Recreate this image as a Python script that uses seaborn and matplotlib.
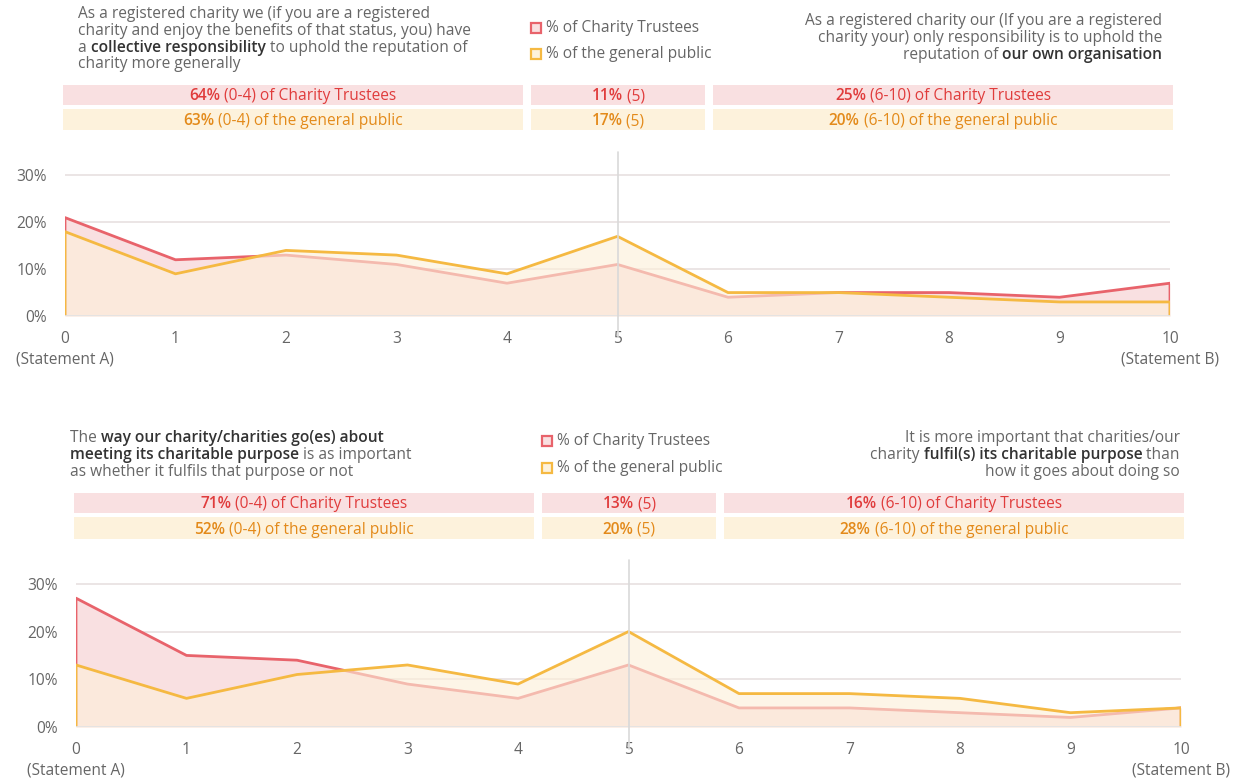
import numpy as np
import pandas as pd
import seaborn as sns
import matplotlib.pyplot as plt
from matplotlib.patches import Rectangle

# scores on the 0-10 scale
scores = list(range(11))

# question 1: collective responsibility vs own organisation
q1_trustees = [21, 12, 13, 11, 7, 11, 4, 5, 5, 4, 7]
q1_public = [18, 9, 14, 13, 9, 17, 5, 5, 4, 3, 3]
q1_sum_trustees = ["64%", "11%", "25%"]
q1_sum_public = ["63%", "17%", "20%"]

# question 2: how vs whether purpose is fulfilled
q2_trustees = [27, 15, 14, 9, 6, 13, 4, 4, 3, 2, 4]
q2_public = [13, 6, 11, 13, 9, 20, 7, 7, 6, 3, 4]
q2_sum_trustees = ["71%", "13%", "16%"]
q2_sum_public = ["52%", "20%", "28%"]

range_trustees = [" (0-4) of Charity Trustees", " (5)", " (6-10) of Charity Trustees"]
range_public = [" (0-4) of the general public", " (5)", " (6-10) of the general public"]

q1_left = ["As a registered charity we (if you are a registered",
           "charity and enjoy the benefits of that status, you) have",
           "a **collective responsibility** to uphold the reputation of",
           "charity more generally"]
q1_right = ["As a registered charity our (If you are a registered",
            "charity your) only responsibility is to uphold the",
            "reputation of **our own organisation**"]
q2_left = ["The **way our charity/charities go(es) about**",
           "**meeting its charitable purpose** is as important",
           "as whether it fulfils that purpose or not"]
q2_right = ["It is more important that charities/our",
            "charity **fulfil(s) its charitable purpose** than",
            "how it goes about doing so"]

legend_labels = ["% of Charity Trustees", "% of the general public"]

RED = "#e8636b"
YELLOW = "#f5b942"
PINK_BG = "#f9e0e1"
CREAM_BG = "#fdf2dc"
RED_TXT = "#e03c3c"
ORANGE_TXT = "#e38a1a"
GREY_TXT = "#666666"
DARK_TXT = "#333333"

W, H = 1247, 779
sns.set_theme(style="white")
plt.rcParams["font.family"] = ["Open Sans", "DejaVu Sans"]

fig = plt.figure(figsize=(W / 100, H / 100), dpi=100)
fig.canvas.draw()
renderer = fig.canvas.get_renderer()
FS = 11.2
BOLD = "semibold"


def runs_from(line, base_color, bold_color):
    parts = line.split("**")
    out = []
    for i, p in enumerate(parts):
        if p:
            out.append((p, BOLD if i % 2 else "normal", bold_color if i % 2 else base_color))
    return out


def draw_runs(x, y, runs, ha="left", size=FS):
    # x, y in pixels from top-left
    texts = []
    widths = []
    for s, weight, color in runs:
        t = fig.text(0, 0, s, fontsize=size, fontweight=weight, color=color, va="center", ha="left")
        w = t.get_window_extent(renderer).width
        texts.append(t)
        widths.append(w)
    total = sum(widths)
    if ha == "right":
        x0 = x - total
    elif ha == "center":
        x0 = x - total / 2
    else:
        x0 = x
    for t, w in zip(texts, widths):
        t.set_position((x0 / W, 1 - y / H))
        x0 += w


def paragraph(x, y0, lines, ha, step=16.8):
    for i, line in enumerate(lines):
        draw_runs(x, y0 + i * step, runs_from(line, GREY_TXT, DARK_TXT), ha=ha)


def legend(x, y0, step=26):
    for i, (lab, ec, fc) in enumerate(zip(legend_labels, [RED, YELLOW], [PINK_BG, CREAM_BG])):
        y = y0 + i * step
        fig.patches.append(Rectangle((x / W, 1 - (y + 5) / H), 10 / W, 10 / H, transform=fig.transFigure,
                                     facecolor=fc, edgecolor=ec, linewidth=1.6))
        fig.text((x + 15) / W, 1 - y / H, lab, fontsize=FS, color=GREY_TXT, va="center")


def summary_rows(boxes, y_rows, sums_t, sums_p):
    for row, (yt, yb) in enumerate(y_rows):
        bg = PINK_BG if row == 0 else CREAM_BG
        col = RED_TXT if row == 0 else ORANGE_TXT
        sums = sums_t if row == 0 else sums_p
        rngs = range_trustees if row == 0 else range_public
        for (bx0, bx1), pct, rng in zip(boxes, sums, rngs):
            fig.patches.append(Rectangle((bx0 / W, 1 - yb / H), (bx1 - bx0) / W, (yb - yt) / H,
                                         transform=fig.transFigure, facecolor=bg, edgecolor="none"))
            draw_runs((bx0 + bx1) / 2, (yt + yb) / 2 + 1.5, [(pct, BOLD, col), (rng, "normal", col)], ha="center")


def area_chart(ax, trustees, public):
    xs = [scores[0]] + scores + [scores[-1]]
    df_t = pd.DataFrame({"x": xs, "y": [0] + trustees + [0]})
    df_p = pd.DataFrame({"x": xs, "y": [0] + public + [0]})
    ax.fill_between(scores, 0, trustees, color=PINK_BG, linewidth=0, zorder=1)
    sns.lineplot(data=df_t, x="x", y="y", sort=False, estimator=None, color=RED, linewidth=2, ax=ax, zorder=2)
    ax.fill_between(scores, 0, public, color="#fdf0d9", alpha=0.62, linewidth=0, zorder=3)
    sns.lineplot(data=df_p, x="x", y="y", sort=False, estimator=None, color=YELLOW, linewidth=2, ax=ax, zorder=4)
    ax.set_xlim(0, 10)
    ax.set_ylim(0, 35)
    ax.set_yticks([0, 10, 20, 30])
    ax.set_yticklabels([f"{v}%" for v in [0, 10, 20, 30]])
    ax.set_xticks(scores)
    labels = [str(s) for s in scores]
    labels[0] = "0\n(Statement A)"
    labels[-1] = "10\n(Statement B)"
    ax.set_xticklabels(labels, linespacing=1.35, va="top")
    ax.tick_params(axis="both", length=0, labelsize=FS, colors=GREY_TXT)
    ax.tick_params(axis="y", pad=13)
    ax.tick_params(axis="x", pad=11)
    for v in [10, 20, 30]:
        ax.axhline(v, color="#e8e0e0", linewidth=1.2, zorder=0)
    ax.axhline(0, color="#e3e3e3", linewidth=2, zorder=5)
    ax.axvline(5, ymin=-0.13, ymax=1, color="#d9d9d9", linewidth=1.2, clip_on=False, zorder=6)
    for sp in ax.spines.values():
        sp.set_visible(False)
    ax.set_xlabel("")
    ax.set_ylabel("")
    ax.patch.set_alpha(0)


# top panel
ax1 = fig.add_axes([65 / W, 1 - 316 / H, 1105 / W, 164 / H])
area_chart(ax1, q1_trustees, q1_public)
paragraph(78, 14, q1_left, "left")
legend(531, 28)
paragraph(1162, 21, q1_right, "right")
summary_rows([(63, 523), (531, 705), (713, 1173)], [(85, 105), (109, 130)], q1_sum_trustees, q1_sum_public)

# bottom panel
ax2 = fig.add_axes([76 / W, 1 - 727 / H, 1105 / W, 167 / H])
area_chart(ax2, q2_trustees, q2_public)
paragraph(70, 438, q2_left, "left")
legend(542, 441, step=27)
paragraph(1180, 438, q2_right, "right")
summary_rows([(74, 534), (542, 716), (724, 1184)], [(493, 513), (517, 539)], q2_sum_trustees, q2_sum_public)

fig.savefig("out.png", dpi=100, facecolor="white")
